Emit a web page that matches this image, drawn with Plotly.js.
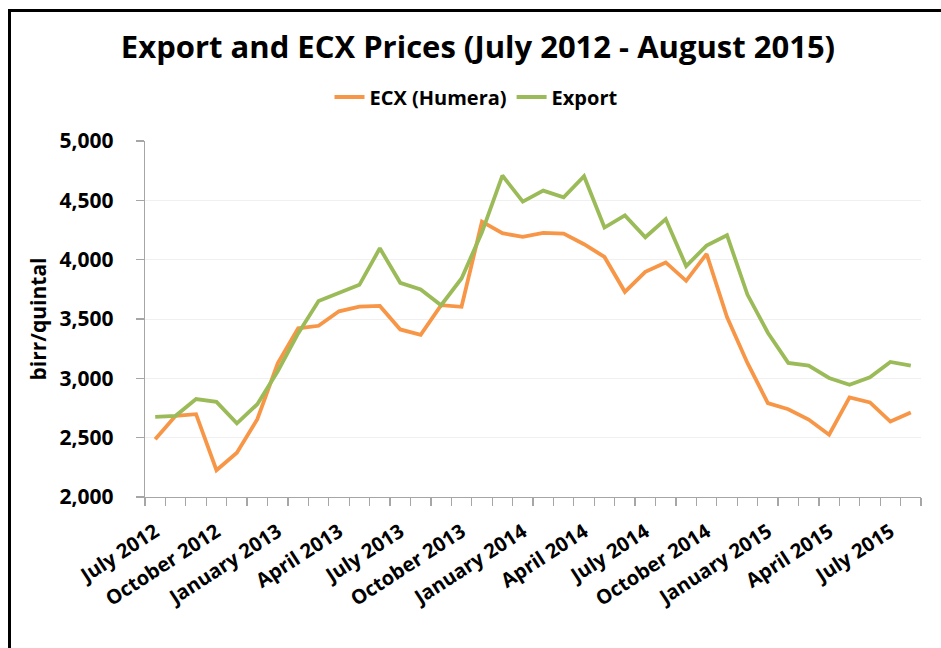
<!DOCTYPE html>
<html>
<head>
<meta charset="utf-8">
<script src="https://cdn.plot.ly/plotly-3.0.1.min.js"></script>
<style>
  html, body { margin: 0; padding: 0; background: #fff; }
  #wrap { position: relative; width: 941px; height: 648px; overflow: hidden; }
  #chart { position: absolute; left: 0; top: 0; width: 941px; height: 648px; }
  #frame { position: absolute; left: 8px; top: 9px; width: 960px; height: 700px;
           border-left: 3px solid #000; border-top: 3px solid #000; pointer-events: none; }
</style>
</head>
<body>
<div id="wrap">
  <div id="chart"></div>
  <div id="frame"></div>
</div>
<script>
const months = [
  "July 2012","August 2012","September 2012","October 2012","November 2012","December 2012",
  "January 2013","February 2013","March 2013","April 2013","May 2013","June 2013",
  "July 2013","August 2013","September 2013","October 2013","November 2013","December 2013",
  "January 2014","February 2014","March 2014","April 2014","May 2014","June 2014",
  "July 2014","August 2014","September 2014","October 2014","November 2014","December 2014",
  "January 2015","February 2015","March 2015","April 2015","May 2015","June 2015",
  "July 2015","August 2015"
];
const tickLabels = ["July 2012","October 2012","January 2013","April 2013","July 2013",
  "October 2013","January 2014","April 2014","July 2014","October 2014","January 2015",
  "April 2015","July 2015"];
const ecxHumera = [2486,2684,2698,2226,2373,2655,3126,3421,3443,3565,3605,3610,
  3412,3367,3616,3603,4320,4223,4192,4226,4220,4130,4023,3729,
  3898,3977,3822,4048,3517,3130,2791,2740,2653,2525,2839,2797,2636,2712];
const exportPrice = [2675,2684,2825,2802,2621,2782,3060,3379,3651,3718,3788,4096,
  3805,3749,3616,3842,4230,4709,4489,4582,4525,4703,4271,4373,
  4189,4342,3946,4119,4206,3706,3384,3130,3107,3003,2946,3008,3138,3107];
const yTicks = [2000,2500,3000,3500,4000,4500,5000];

const xIdx = months.map((m, i) => i);
const tickIdx = tickLabels.map(t => months.indexOf(t));

const FONT = "Open Sans, Arial, sans-serif";

const traces = [
  { x: xIdx, y: ecxHumera, name: "ECX (Humera)", type: "scatter", mode: "lines",
    text: months, hoverinfo: "text+y",
    line: { color: "#F79646", width: 3.8 } },
  { x: xIdx, y: exportPrice, name: "Export", type: "scatter", mode: "lines",
    text: months, hoverinfo: "text+y",
    line: { color: "#9BBB59", width: 3.8 } }
];

const layout = {
  width: 941, height: 648,
  paper_bgcolor: "rgba(0,0,0,0)", plot_bgcolor: "#fff",
  margin: { l: 145, r: 20, t: 141, b: 151, pad: 0 },
  font: { family: FONT, color: "#000", size: 20, weight: "bold" },
  title: {
    text: "Export and ECX Prices (July 2012 - August 2015)",
    font: { family: FONT, size: 31, weight: "bold", color: "#000" },
    x: 478/941, xref: "container", xanchor: "center",
    y: 1 - 47/648, yref: "container", yanchor: "middle"
  },
  showlegend: true,
  legend: {
    orientation: "h",
    x: 476/941, xref: "container", xanchor: "center",
    y: 1 - 97/648, yref: "container", yanchor: "middle",
    font: { family: FONT, size: 20, weight: "bold", color: "#000" },
    itemwidth: 30, tracegroupgap: 0, bgcolor: "rgba(0,0,0,0)"
  },
  xaxis: {
    type: "linear", range: [-0.5, months.length - 0.5],
    tickmode: "array", tickvals: tickIdx, ticktext: tickLabels,
    tickangle: -33, ticks: "", showgrid: false, zeroline: false,
    showline: true, linecolor: "#a6a6a6", linewidth: 1.3,
    tickfont: { family: FONT, size: 20, weight: "bold", color: "#000" },
    ticklabelstandoff: 14,
    minor: { ticks: "outside", tick0: -0.5, dtick: 1, ticklen: 8,
             tickcolor: "#a6a6a6", tickwidth: 1.3, showgrid: false }
  },
  yaxis: {
    range: [2000, 5000], tickmode: "array", tickvals: yTicks,
    tickformat: ",", ticks: "outside", ticklen: 8, tickcolor: "#a6a6a6", tickwidth: 1.3,
    showline: true, linecolor: "#a6a6a6", linewidth: 1.3,
    showgrid: true, gridcolor: "#f0f0f0", gridwidth: 1, zeroline: false,
    tickfont: { family: FONT, size: 21, weight: "bold", color: "#000" },
    ticklabelstandoff: 18,
    title: { text: "birr/quintal", standoff: 7,
             font: { family: FONT, size: 21, weight: "bold", color: "#000" } }
  }
};

Plotly.newPlot("chart", traces, layout, { displayModeBar: false, staticPlot: true });
</script>
</body>
</html>
